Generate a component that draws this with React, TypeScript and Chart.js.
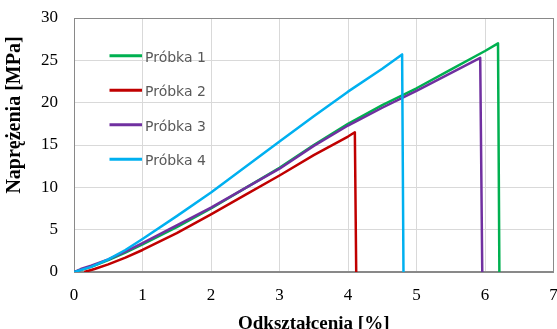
import React, { useEffect, useRef } from "react";
import { Chart, registerables } from "chart.js";

Chart.register(...registerables);

const seriesNames = ["Próbka 1", "Próbka 2", "Próbka 3", "Próbka 4"];
const seriesColors = ["#00B050", "#C00000", "#7030A0", "#00B0F0"];

const sample1X = [0, 0.25, 0.5, 0.75, 1, 1.5, 2, 2.5, 3, 3.5, 4, 4.5, 5, 5.5, 6, 6.19, 6.21];
const sample1Y = [0, 0.6, 1.4, 2.3, 3.25, 5.3, 7.5, 9.9, 12.3, 15.0, 17.5, 19.7, 21.7, 23.9, 26.1, 27.0, 0];

const sample2X = [0.15, 0.3, 0.5, 0.75, 1, 1.5, 2, 2.5, 3, 3.5, 4, 4.1, 4.12];
const sample2Y = [0, 0.35, 0.9, 1.7, 2.6, 4.6, 6.8, 9.1, 11.4, 13.8, 16.0, 16.5, 0];

const sample3X = [0, 0.1, 0.25, 0.5, 0.75, 1, 1.5, 2, 2.5, 3, 3.5, 4, 4.5, 5, 5.5, 5.93, 5.96];
const sample3Y = [0, 0.35, 0.75, 1.5, 2.4, 3.4, 5.5, 7.6, 9.9, 12.2, 14.9, 17.3, 19.4, 21.4, 23.5, 25.3, 0];

const sample4X = [0, 0.25, 0.5, 0.75, 1, 1.5, 2, 2.5, 3, 3.5, 4, 4.5, 4.79, 4.81];
const sample4Y = [0, 0.6, 1.5, 2.6, 3.9, 6.6, 9.4, 12.4, 15.4, 18.4, 21.3, 24.0, 25.7, 0];

const seriesX = [sample1X, sample2X, sample3X, sample4X];
const seriesY = [sample1Y, sample2Y, sample3Y, sample4Y];

const xMin = 0;
const xMax = 7;
const xStep = 1;
const yMin = 0;
const yMax = 30;
const yStep = 5;

const xTitle = "Odkształcenia [%]";
const yTitle = "Naprężenia [MPa]";

const toPoints = (xs: number[], ys: number[]) => xs.map((x, i) => ({ x, y: ys[i] }));

const decorPlugin = {
  id: "decor",
  beforeDatasetsDraw(chart: any) {
    const { ctx, chartArea: a } = chart;
    ctx.save();
    ctx.strokeStyle = "#898989";
    ctx.lineWidth = 1;
    const l = Math.round(a.left) + 0.5;
    const t = Math.round(a.top) + 0.5;
    const r = Math.round(a.right) - 0.5;
    const b = Math.round(a.bottom) - 0.5;
    ctx.strokeRect(l, t, r - l, b - t);
    ctx.restore();
  },
  afterDraw(chart: any) {
    const { ctx, chartArea: a } = chart;
    ctx.save();
    // axis titles
    ctx.fillStyle = "#000000";
    ctx.font = "bold 19px 'Liberation Serif', 'Times New Roman', serif";
    ctx.textAlign = "center";
    ctx.textBaseline = "alphabetic";
    ctx.fillText(xTitle, (a.left + a.right) / 2, 328.5);
    ctx.save();
    ctx.translate(20, 115);
    ctx.rotate(-Math.PI / 2);
    ctx.font = "bold 20px 'Liberation Serif', 'Times New Roman', serif";
    ctx.fillText(yTitle, 0, 0);
    ctx.restore();
    // legend
    ctx.font = "14px 'DejaVu Sans', sans-serif";
    ctx.textAlign = "left";
    ctx.textBaseline = "alphabetic";
    seriesNames.forEach((name, i) => {
      const y = a.top + 37.7 + i * 34.5;
      ctx.strokeStyle = seriesColors[i];
      ctx.lineWidth = 3;
      ctx.beginPath();
      ctx.moveTo(a.left + 35.5, y);
      ctx.lineTo(a.left + 68, y);
      ctx.stroke();
      ctx.fillStyle = "#595959";
      ctx.fillText(name, a.left + 71, y + 6);
    });
    ctx.restore();
  },
};

export default function App() {
  const canvasRef = useRef<HTMLCanvasElement | null>(null);

  useEffect(() => {
    const canvas = canvasRef.current;
    if (!canvas) return;
    const chart = new Chart(canvas, {
      type: "scatter",
      data: {
        datasets: seriesNames.map((name, i) => ({
          label: name,
          data: toPoints(seriesX[i], seriesY[i]),
          showLine: true,
          borderColor: seriesColors[i],
          backgroundColor: seriesColors[i],
          borderWidth: 2.5,
          pointRadius: 0,
          pointHoverRadius: 0,
          tension: 0,
          borderJoinStyle: "round",
          fill: false,
          order: 3 - i,
        })),
      },
      options: {
        responsive: false,
        animation: false,
        devicePixelRatio: 1,
        layout: { padding: { top: 18, right: 3.5, left: 0, bottom: 0 } },
        plugins: {
          legend: { display: false },
          tooltip: { enabled: false },
          title: { display: false },
        },
        scales: {
          x: {
            type: "linear",
            min: xMin,
            max: xMax,
            ticks: {
              stepSize: xStep,
              color: "#000000",
              padding: 13,
              font: { family: "'Liberation Serif', 'Times New Roman', serif", size: 17 },
            },
            grid: { color: "#d9d9d9", drawTicks: false, lineWidth: 1 },
            border: { color: "#898989", width: 1 },
            afterFit: (s: any) => {
              s.height = 57;
              s.paddingRight = 0;
              s.paddingLeft = 0;
            },
          },
          y: {
            type: "linear",
            min: yMin,
            max: yMax,
            ticks: {
              stepSize: yStep,
              color: "#000000",
              padding: 16,
              font: { family: "'Liberation Serif', 'Times New Roman', serif", size: 17 },
            },
            grid: { color: "#d9d9d9", drawTicks: false, lineWidth: 1 },
            border: { color: "#898989", width: 1 },
            afterFit: (s: any) => {
              s.width = 74;
              s.paddingTop = 0;
              s.paddingBottom = 0;
            },
          },
        },
      },
      plugins: [decorPlugin],
    });
    return () => chart.destroy();
  }, []);

  return (
    <div style={{ position: "fixed", left: 0, top: 0, width: 557, height: 329, background: "#ffffff" }}>
      <canvas ref={canvasRef} width={557} height={329} style={{ display: "block", width: 557, height: 329 }} />
    </div>
  );
}
